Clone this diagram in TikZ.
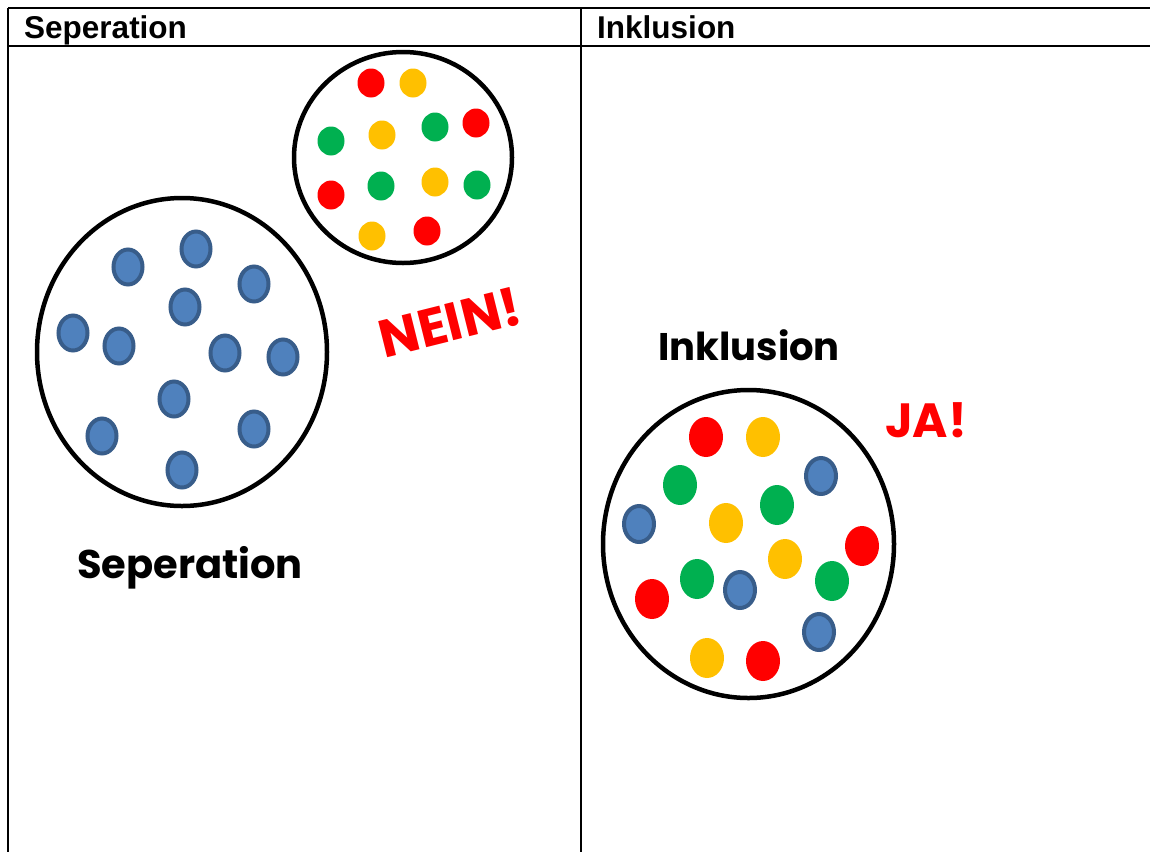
\documentclass[tikz,border=0pt]{standalone}
\usepackage{fontspec}
\usetikzlibrary{shapes.geometric}
\setmainfont{Liberation Sans}
\newfontfamily\handfont{Poppins}
\definecolor{dotred}{HTML}{FF0000}
\definecolor{dotyellow}{HTML}{FFC000}
\definecolor{dotgreen}{HTML}{00B050}
\definecolor{dotblue}{HTML}{4F81BD}
\definecolor{dotedge}{HTML}{385D8A}
\tikzset{
  rule/.style={line width=2pt, black},
  group/.style={ellipse, draw=black, line width=4.5pt, inner sep=0pt},
  smalldot/.style={ellipse, inner sep=0pt, minimum width=27pt, minimum height=29pt},
  bigdot/.style={ellipse, inner sep=0pt, minimum width=34pt, minimum height=40pt},
  bluedot/.style={ellipse, inner sep=0pt, draw=dotedge, fill=dotblue, line width=4pt},
  headtext/.style={font=\fontsize{31.5}{36}\selectfont\bfseries, inner sep=0pt, anchor=base west},
  handtext/.style={font=\handfont\bfseries, inner sep=0pt},
}
\begin{document}
\begin{tikzpicture}[x=1pt, y=-1pt]
\useasboundingbox (0,0) rectangle (1150,852);

% table frame
\coordinate (tl) at (8,8);
\coordinate (tr) at (1150,8);
\coordinate (hl) at (8,46);
\coordinate (hr) at (1150,46);
\coordinate (bl) at (8,852);
\coordinate (mt) at (581,8);
\coordinate (mb) at (581,852);
\draw[rule] (tl) -- (tr);
\draw[rule] (hl) -- (hr);
\draw[rule] (tl) -- (bl);
\draw[rule] (mt) -- (mb);
\node[headtext] (h1) at (24,38) {Seperation};
\node[headtext] (h2) at (597,38) {Inklusion};

% separated groups
\node[group, minimum width=290pt, minimum height=308pt] (left) at (182,352) {};
\node[group, minimum width=218pt, minimum height=211pt] (top) at (403,157.5) {};

\foreach \n/\x/\y in {1/128/267, 2/196/249, 3/254/284, 4/185/307, 5/73/333,
  6/119/346, 7/225/353, 8/283/357, 9/174/399, 10/102/436, 11/254/429, 12/182/470}
  \node[bluedot, minimum width=29pt, minimum height=35pt] (b\n) at (\x,\y) {};

\foreach \n/\x/\y/\c in {1/371/83/dotred, 2/413/83/dotyellow, 3/331/141/dotgreen,
  4/382/135/dotyellow, 5/435/127/dotgreen, 6/476/123/dotred, 7/331/195/dotred,
  8/381/186/dotgreen, 9/435/182/dotyellow, 10/477/185/dotgreen,
  11/372/236/dotyellow, 12/427/231/dotred}
  \node[smalldot, fill=\c] (s\n) at (\x,\y) {};

\node[handtext, text=dotred, rotate=14, font=\handfont\bfseries\fontsize{53}{60}\selectfont] (nein) at (450,322) {NEIN!};
\node[handtext, font=\handfont\bfseries\fontsize{40}{46}\selectfont] (lsep) at (190,568) {Seperation};

% inclusive group
\node[group, minimum width=291pt, minimum height=308pt] (right) at (748.5,544) {};
\foreach \n/\x/\y/\c in {1/706/437/dotred, 2/763/437/dotyellow, 4/680/485/dotgreen,
  5/777/505/dotgreen, 7/726/523/dotyellow, 8/862/546/dotred, 9/785/559/dotyellow,
  10/697/579/dotgreen, 12/832/581/dotgreen, 13/652/599/dotred,
  15/707/658/dotyellow, 16/763/661/dotred}
  \node[bigdot, fill=\c] (m\n) at (\x,\y) {};
\foreach \n/\x/\y in {3/821/476, 6/639/524, 11/740/590, 14/819/632}
  \node[bluedot, minimum width=30pt, minimum height=36pt] (m\n) at (\x,\y) {};

\node[handtext, font=\handfont\bfseries\fontsize{38.5}{44}\selectfont] (lin) at (749,345) {Inklusion};
\node[handtext, text=dotred, font=\handfont\bfseries\fontsize{48}{54}\selectfont] (ja) at (926,420) {JA!};
\end{tikzpicture}
\end{document}
